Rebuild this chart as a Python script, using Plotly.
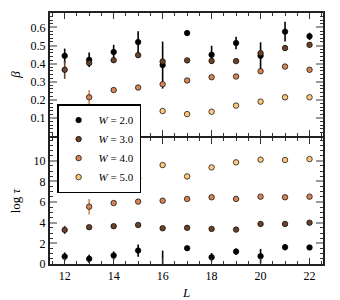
import plotly.graph_objects as go

# ---------------- data ----------------
L = [12, 13, 14, 15, 16, 17, 18, 19, 20, 21, 22]
W_labels = ["2.0", "3.0", "4.0", "5.0"]
colors = ["#000000", "#6a422a", "#d48555", "#ffc77f"]

beta_w2 = [0.443, 0.421, 0.464, 0.519, 0.392, 0.569, 0.449, 0.514, 0.443, 0.577, 0.551]
beta_w2_err = [0.04, 0.04, 0.04, 0.06, 0.13, 0.015, 0.05, 0.035, 0.075, 0.055, 0.02]
beta_w3 = [0.366, 0.403, 0.419, 0.447, 0.412, 0.418, 0.415, 0.414, 0.458, 0.486, 0.504]
beta_w3_err = [0.05, 0.015, 0.01, 0.01, 0.01, 0.01, 0.01, 0.01, 0.015, 0.015, 0.015]
beta_w4 = [None, 0.214, 0.254, 0.268, 0.286, 0.307, 0.325, 0.329, 0.358, 0.384, 0.366]
beta_w4_err = [0, 0.04, 0.008, 0.008, 0.008, 0.008, 0.008, 0.008, 0.008, 0.008, 0.008]
beta_w5 = [None, None, None, None, 0.138, 0.121, 0.134, 0.168, 0.190, 0.214, 0.214]
beta_w5_err = [0, 0, 0, 0, 0.006, 0.006, 0.006, 0.006, 0.006, 0.006, 0.006]

logtau_w2 = [0.72, 0.50, 0.82, 1.30, -0.40, 1.53, 0.66, 1.20, 0.76, 1.63, 1.60]
logtau_w2_err = [0.4, 0.4, 0.4, 0.6, 1.7, 0.15, 0.4, 0.3, 0.7, 0.3, 0.15]
logtau_w3 = [3.30, 3.56, 3.66, 3.78, 3.46, 3.50, 3.40, 3.33, 3.88, 3.88, 4.00]
logtau_w3_err = [0.4, 0.15, 0.1, 0.1, 0.1, 0.1, 0.1, 0.1, 0.1, 0.1, 0.1]
logtau_w4 = [None, 5.55, 5.90, 6.04, 6.13, 6.30, 6.46, 6.30, 6.52, 6.46, 6.52]
logtau_w4_err = [0, 0.75, 0.1, 0.1, 0.1, 0.1, 0.1, 0.1, 0.1, 0.1, 0.1]
logtau_w5 = [None, None, None, 8.30, 9.58, 8.48, 9.35, 9.84, 10.10, 10.07, 10.16]
logtau_w5_err = [0, 0, 0, 1.2, 0.2, 0.3, 0.15, 0.15, 0.1, 0.1, 0.1]

beta_sets = [(beta_w2, beta_w2_err), (beta_w3, beta_w3_err), (beta_w4, beta_w4_err), (beta_w5, beta_w5_err)]
tau_sets = [(logtau_w2, logtau_w2_err), (logtau_w3, logtau_w3_err), (logtau_w4, logtau_w4_err), (logtau_w5, logtau_w5_err)]

beta_ticks = [0.1, 0.2, 0.3, 0.4, 0.5, 0.6]
tau_ticks = [0, 2, 4, 6, 8, 10]
L_ticks = [12, 14, 16, 18, 20, 22]

FONT = "Liberation Serif"

fig = go.Figure()
for i, w in enumerate(W_labels):
    c = colors[i]
    b, be = beta_sets[i]
    t, te = tau_sets[i]
    marker = dict(color=c, size=5.5, line=dict(color="#000000", width=0.7))
    fig.add_trace(go.Scatter(
        x=L, y=b, mode="markers", marker=marker, name=f"<i>W</i> = {w}",
        error_y=dict(type="data", array=be, color=c, thickness=1.6, width=0),
        xaxis="x", yaxis="y", legendgroup=w, showlegend=True))
    fig.add_trace(go.Scatter(
        x=L, y=t, mode="markers", marker=marker, name=f"<i>W</i> = {w}",
        error_y=dict(type="data", array=te, color=c, thickness=1.6, width=0),
        xaxis="x2", yaxis="y2", legendgroup=w, showlegend=False))

spine = "#222222"
common_x = dict(range=[11.4, 22.55], showline=True, linecolor=spine, linewidth=2,
                mirror="ticks", ticks="inside", ticklen=6, tickwidth=1, tickcolor="#333333",
                tickvals=L_ticks, showgrid=False, zeroline=False, automargin=False,
                minor=dict(ticks="inside", ticklen=3, tickwidth=1, tickcolor="#333333",
                           tickmode="linear", tick0=0, dtick=0.5, showgrid=False),
                tickfont=dict(family=FONT, size=12, color="#000"))
common_y = dict(showline=True, linecolor=spine, linewidth=2, mirror="ticks",
                ticks="inside", ticklen=7, tickwidth=2, tickcolor="#999999",
                showgrid=False, zeroline=False, automargin=False,
                tickfont=dict(family=FONT, size=12, color="#000"))

# page body has an 8px default margin, so the figure is sized to fit the 340x300 window
fig.update_layout(
    width=332, height=292,
    margin=dict(l=42, r=17, t=5, b=36),
    paper_bgcolor="white", plot_bgcolor="white",
    font=dict(family=FONT, size=12, color="#000"),
    xaxis=dict(**common_x, domain=[0, 1], anchor="y", showticklabels=False, matches="x2"),
    xaxis2=dict(**common_x, domain=[0, 1], anchor="y2",
                title=dict(text="<i>L</i>", font=dict(family=FONT, size=13))),
    yaxis=dict(**common_y, domain=[0.51, 1], anchor="x", range=[0, 0.68], tickvals=beta_ticks,
               ticktext=[f"{v:.1f}" for v in beta_ticks],
               minor=dict(ticks="inside", ticklen=3, tickwidth=1, tickcolor="#333333",
                          tickmode="linear", tick0=0, dtick=0.02, showgrid=False),
               title=dict(text="<i>β</i>", font=dict(family=FONT, size=13))),
    yaxis2=dict(**common_y, domain=[0, 0.502], anchor="x2", range=[0, 12.2], tickvals=tau_ticks,
                minor=dict(ticks="inside", ticklen=3, tickwidth=1, tickcolor="#333333",
                           tickmode="linear", tick0=0, dtick=0.5, showgrid=False),
                title=dict(text="log <i>τ</i>", font=dict(family=FONT, size=13))),
    legend=dict(x=0.026, y=0.637, xanchor="left", yanchor="top",
                bgcolor="white", bordercolor="#000000", borderwidth=1.5,
                font=dict(family=FONT, size=11), tracegroupgap=0,
                itemwidth=30),
    showlegend=True,
)

fig.write_html("out.html")
